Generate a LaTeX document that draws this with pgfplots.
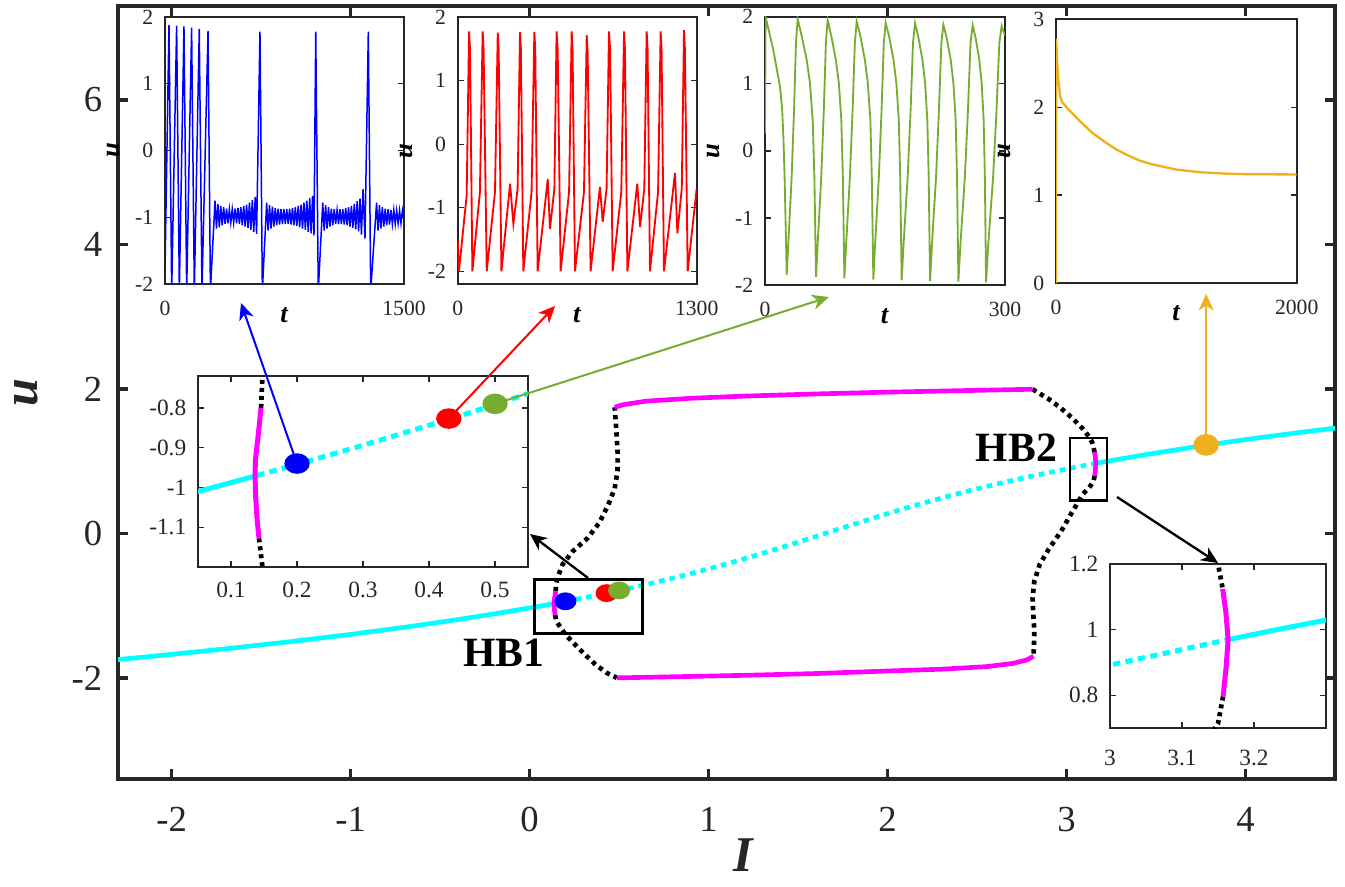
\documentclass[border=0pt]{standalone}
\usepackage{fontspec}
\setmainfont{Liberation Serif}
\usepackage{pgfplots}
\usepackage{pgfplotstable}
\pgfplotsset{compat=1.18}
\usetikzlibrary{arrows.meta}

\definecolor{mcyan}{rgb}{0,1,1}
\definecolor{mmag}{rgb}{1,0,1}
\definecolor{mgreen}{rgb}{0.466,0.674,0.188}
\definecolor{morange}{rgb}{0.929,0.694,0.125}
\definecolor{axgray}{rgb}{0.15,0.15,0.15}

% equilibrium branch: stable left, unstable middle, stable right
\pgfplotstableread{
I u
-2.3145 -1.75
-2.1034 -1.70
-1.7064 -1.60
-1.3415 -1.50
-1.0066 -1.40
-0.6996 -1.30
-0.4187 -1.20
-0.1618 -1.10
0.0506 -1.01
0.0732 -1.00
0.1397 -0.97
}\eqleft
\pgfplotstableread{
I u
0.1397 -0.97
0.2044 -0.94
0.2881 -0.90
0.4336 -0.827
0.4850 -0.80
0.6660 -0.70
0.8329 -0.60
0.9878 -0.50
1.1328 -0.40
1.2697 -0.30
1.4006 -0.20
1.5276 -0.10
1.6525 0.00
1.7774 0.10
1.9044 0.20
2.0353 0.30
2.1722 0.40
2.3172 0.50
2.4721 0.60
2.6385 0.70
2.8190 0.80
3.0169 0.90
3.1653 0.97
}\eqmid
\pgfplotstableread{
I u
3.1653 0.97
3.2318 1.00
3.4668 1.10
3.7237 1.20
4.0046 1.30
4.3116 1.40
4.6465 1.50
}\eqright

% limit cycle extrema
\pgfplotstableread{
I u
0.1455 -0.80
0.1405 -0.88
0.1370 -0.93
0.1364 -0.968
0.1372 -1.02
0.1395 -1.08
0.1424 -1.128
}\hbone
\pgfplotstableread{
I u
0.1455 -0.80
0.1476 -0.72
0.155 -0.62
0.184 -0.43
0.24 -0.25
0.324 -0.065
0.39 0.15
0.44 0.40
0.475 0.62
0.491 0.86
0.492 1.10
0.487 1.32
0.481 1.55
0.475 1.745
}\ulupper
\pgfplotstableread{
I u
0.1424 -1.128
0.1476 -1.20
0.161 -1.26
0.20 -1.40
0.254 -1.54
0.31 -1.68
0.37 -1.82
0.43 -1.93
0.487 -2.0
}\ullower
\pgfplotstableread{
I u
0.475 1.745
0.52 1.78
0.65 1.83
0.9 1.87
1.2 1.90
1.6 1.93
2.0 1.955
2.4 1.975
2.81 1.995
}\slupper
\pgfplotstableread{
I u
0.487 -2.0
0.8 -1.985
1.2 -1.965
1.6 -1.94
2.0 -1.905
2.3 -1.88
2.55 -1.845
2.7 -1.80
2.78 -1.75
2.815 -1.70
}\sllower
\pgfplotstableread{
I u
2.81 1.995
2.90 1.86
2.97 1.73
3.03 1.60
3.09 1.45
3.125 1.34
3.143 1.26
3.150 1.20
3.1565 1.124
}\urupper
\pgfplotstableread{
I u
3.1565 1.124
3.161 1.05
3.164 0.968
3.161 0.88
3.157 0.796
}\hbtwo
\pgfplotstableread{
I u
3.157 0.796
3.150 0.714
3.125 0.63
3.09 0.54
3.03 0.29
2.97 0.03
2.90 -0.22
2.85 -0.43
2.82 -0.66
2.81 -0.9
2.815 -1.15
2.82 -1.36
2.818 -1.55
2.815 -1.70
}\urlower

% time series
\pgfplotstableread{
t u
0 -1.79
25 1.88
42 -2.1
73 1.87
90 -2.1
119 1.86
136 -2.1
167 1.84
184 -2.1
215 1.82
232 -2.1
270 1.79
285 -2.1
314 -0.75
323 -1.17
332 -0.80
341 -1.15
350 -0.83
359 -1.12
368 -0.85
377 -1.10
386 -0.87
395 -1.09
404 -0.88
413 -1.08
422 -0.88
431 -1.08
440 -0.87
449 -1.09
458 -0.86
467 -1.10
476 -0.85
485 -1.12
494 -0.83
503 -1.14
512 -0.81
521 -1.16
530 -0.78
539 -1.19
548 -0.74
557 -1.22
566 -0.70
575 -1.25
596 1.78
611 -2.1
638 -0.78
647 -1.20
656 -0.82
665 -1.17
674 -0.84
683 -1.14
692 -0.86
701 -1.12
710 -0.87
719 -1.11
728 -0.88
737 -1.10
746 -0.88
755 -1.10
764 -0.88
773 -1.10
782 -0.87
791 -1.11
800 -0.86
809 -1.12
818 -0.85
827 -1.13
836 -0.83
845 -1.15
854 -0.81
863 -1.17
872 -0.78
881 -1.19
890 -0.75
899 -1.22
908 -0.71
917 -1.24
926 -0.68
935 -1.27
946 1.78
962 -2.1
990 -0.78
999 -1.20
1008 -0.82
1017 -1.17
1026 -0.85
1035 -1.14
1044 -0.87
1053 -1.12
1062 -0.88
1071 -1.10
1080 -0.89
1089 -1.10
1098 -0.88
1107 -1.10
1116 -0.88
1125 -1.11
1134 -0.86
1143 -1.12
1152 -0.85
1161 -1.14
1170 -0.83
1179 -1.16
1188 -0.80
1197 -1.18
1206 -0.76
1215 -1.21
1224 -0.72
1233 -1.26
1243 -0.58
1255 -1.32
1276 1.78
1291 -2.1
1328 -0.78
1337 -1.20
1346 -0.82
1355 -1.17
1364 -0.85
1373 -1.14
1382 -0.87
1391 -1.12
1400 -0.88
1409 -1.11
1418 -0.89
1427 -1.10
1436 -0.89
1445 -1.10
1454 -0.90
1463 -1.09
1472 -0.90
1481 -1.09
1490 -0.90
1500 -1.05
}\tsblue
\pgfplotstableread{
t u
0 -1.5
7 -2.0
49 -0.8
62 1.78
67 1.5
80 -2.0
121 -0.75
136 1.78
141 1.5
158 -2
203 -0.75
218 1.76
223 1.5
238 -2
285 -0.62
303 -1.25
326 -0.7
339 1.77
344 1.5
357 -2
402 -0.75
417 1.77
422 1.5
435 -2
490 -0.55
502 -1.33
526 -0.7
538 1.78
544 1.5
560 -2
606 -0.75
620 1.78
625 1.5
638 -2
687 -0.75
702 1.72
707 1.45
723 -2
774 -0.67
789 -1.22
810 -0.7
823 1.78
829 1.5
843 -2
890 -0.75
905 1.78
910 1.5
923 -2
977 -0.62
992 -1.3
1015 -0.7
1028 1.78
1033 1.5
1046 -2
1090 -0.75
1104 1.78
1109 1.5
1122 -2
1182 -0.45
1195 -1.4
1219 -0.7
1231 1.8
1236 1.5
1251 -2
1300 -0.7
}\tsred
\pgfplotstableread{
t u
0 0.26
0.8 1.99
5 1.78
10.4 1.50
15 1.20
18.75 0.96
21.5 0.60
23 0.20
24.5 -0.40
26 -1.20
27.1 -1.85
29.2 -1.37
33.3 -0.39
36.3 0.61
38.7 1.61
40.8 1.97
45.85 1.71
52.05 1.36
56.2 1.01
59.6 0.46
61.7 -0.39
63.75 -1.88
65.9 -1.37
70.3 -0.39
73.5 0.61
76.1 1.61
78.3 1.95
82.9 1.71
88.5 1.36
92.3 1.01
95.4 0.46
97.3 -0.39
99.2 -1.90
101.5 -1.37
106.1 -0.39
109.5 0.61
112.3 1.61
114.6 1.93
119.2 1.71
124.8 1.36
128.5 1.01
131.7 0.46
133.5 -0.39
135.4 -1.92
137.7 -1.37
142.3 -0.39
145.7 0.61
148.5 1.61
150.8 1.91
155.2 1.70
160.6 1.36
164.2 1.01
167.2 0.46
169.0 -0.39
170.8 -1.93
173.3 -1.37
178.3 -0.39
182.0 0.61
185.0 1.61
187.5 1.90
191.6 1.70
196.7 1.36
200.1 1.01
202.9 0.46
204.6 -0.39
206.3 -1.94
208.8 -1.37
213.8 -0.39
217.4 0.61
220.4 1.61
222.9 1.88
227.0 1.69
232.1 1.36
235.5 1.01
238.3 0.46
240.0 -0.39
241.7 -1.95
244.4 -1.37
249.8 -0.39
253.7 0.61
256.9 1.61
259.6 1.87
263.3 1.68
267.8 1.36
270.8 1.01
273.3 0.46
274.8 -0.39
276.3 -1.96
279.2 -1.37
285.1 -0.39
289.4 0.61
292.9 1.61
295.8 1.86
300 1.72
}\tsgreen
\pgfplotstableread{
t u
0 0
1 2.78
10 2.50
20 2.30
35 2.12
50 2.06
100 1.98
150 1.91
200 1.84
300 1.71
400 1.61
500 1.52
600 1.45
700 1.39
800 1.35
900 1.32
1000 1.29
1200 1.26
1400 1.245
1600 1.238
2000 1.235
}\tsorange

\pgfplotsset{
  inset/.style={
    scale only axis, anchor=south west,
    axis background/.style={fill=white},
    axis line style={axgray, line width=0.6pt},
    tick style={axgray, line width=0.4pt},
    tick align=inside, major tick length=1.8pt,
    /pgf/number format/assume math mode=true,
    /pgf/number format/1000 sep={},
    scaled ticks=false,
  },
  tsinset/.style={
    inset,
    ticklabel style={font=\fontsize{6.5}{7}\selectfont, text=axgray},
    xticklabel style={yshift=-1.5pt},
    xlabel={\textbf{\textit{t}}}, ylabel={\textbf{\textit{u}}},
    label style={font=\fontsize{8}{9}\selectfont},
    xlabel style={at={(axis description cs:0.5,-0.116)}, anchor=center},
    ylabel style={at={(axis description cs:-0.215,0.5)}, anchor=center},
  },
  cyandot/.style={mcyan, line width=1.4pt, dash pattern=on 1.7pt off 1.5pt},
  blackdot/.style={black, line width=1.4pt, dash pattern=on 1.3pt off 1.3pt},
}

\begin{document}
\begin{tikzpicture}
% main bifurcation diagram
\begin{axis}[
  scale only axis,
  at={(35.4pt,32.1pt)}, anchor=south west,
  width=365.1pt, height=231.9pt,
  xmin=-2.3, xmax=4.5, ymin=-3.4, ymax=7.3,
  xtick={-2,-1,0,1,2,3,4}, ytick={-2,0,2,4,6},
  tick align=inside, major tick length=3pt,
  axis line style={axgray, line width=1.3pt},
  tick style={axgray, line width=1pt},
  ticklabel style={font=\fontsize{11}{12}\selectfont, text=axgray},
  /pgf/number format/assume math mode=true,
  xticklabel style={yshift=-5pt},
  yticklabel style={xshift=-1.2pt},
  xlabel={\textbf{\textit{I}}}, ylabel={\textbf{\textit{u}}},
  label style={font=\fontsize{15}{16}\selectfont, text=axgray},
  xlabel style={at={(axis description cs:0.514,-0.098)}, anchor=center},
  ylabel style={at={(axis description cs:-0.075,0.5)}, anchor=center},
]
\addplot[mcyan, line width=1.4pt] table {\eqleft};
\addplot[cyandot] table {\eqmid};
\addplot[mcyan, line width=1.4pt] table {\eqright};
\addplot[blackdot] table {\ulupper};
\addplot[blackdot] table {\ullower};
\addplot[blackdot] table {\urupper};
\addplot[blackdot] table {\urlower};
\addplot[mmag, line width=1.4pt] table {\slupper};
\addplot[mmag, line width=1.4pt] table {\sllower};
\addplot[mmag, line width=1.4pt] table {\hbone};
\addplot[mmag, line width=1.4pt] table {\hbtwo};
\addplot[only marks, mark=*, blue, mark size=3.1pt, mark options={yscale=0.8}] coordinates {(0.2,-0.94)};
\addplot[only marks, mark=*, red, mark size=3.1pt, mark options={yscale=0.8}] coordinates {(0.43,-0.827)};
\addplot[only marks, mark=*, mgreen, mark size=3.1pt, mark options={yscale=0.8}] coordinates {(0.5,-0.79)};
\addplot[only marks, mark=*, morange, mark size=3.6pt, mark options={yscale=0.85}] coordinates {(3.78,1.225)};
\coordinate (odot) at (axis cs:3.78,1.225);
\draw[black, line width=0.7pt] (axis cs:0.028,-1.385) rectangle (axis cs:0.631,-0.637);
\draw[black, line width=0.7pt] (axis cs:3.019,0.457) rectangle (axis cs:3.225,1.316);
\node[font=\fontsize{12.5}{13}\selectfont\bfseries] at (axis cs:-0.145,-1.65) {HB1};
\node[font=\fontsize{12.5}{13}\selectfont\bfseries] at (axis cs:2.72,1.19) {HB2};
\end{axis}

% zoom near HB1
\begin{axis}[
  inset, at={(59.4pt,95.7pt)}, width=99pt, height=57.3pt,
  xmin=0.05, xmax=0.55, ymin=-1.2, ymax=-0.72,
  xtick={0.1,0.2,0.3,0.4,0.5}, ytick={-1.1,-1,-0.9,-0.8},
  ticklabel style={font=\fontsize{7}{8}\selectfont, text=axgray},
  xticklabel style={yshift=-1pt},
]
\addplot[mcyan, line width=1.5pt] table {\eqleft};
\addplot[mcyan, line width=1.5pt, dash pattern=on 2.2pt off 1.6pt] table {\eqmid};
\addplot[black, line width=1.4pt, dash pattern=on 1.2pt off 1.2pt] table {\ulupper};
\addplot[black, line width=1.4pt, dash pattern=on 1.2pt off 1.2pt] table {\ullower};
\addplot[mmag, line width=1.5pt] table {\hbone};
\addplot[only marks, mark=*, blue, mark size=3.6pt, mark options={yscale=0.8}] coordinates {(0.2,-0.94)};
\addplot[only marks, mark=*, red, mark size=3.6pt, mark options={yscale=0.8}] coordinates {(0.43,-0.827)};
\addplot[only marks, mark=*, mgreen, mark size=3.6pt, mark options={yscale=0.8}] coordinates {(0.5,-0.79)};
\coordinate (bdot) at (axis cs:0.2,-0.94);
\coordinate (rdot) at (axis cs:0.43,-0.827);
\coordinate (gdot) at (axis cs:0.5,-0.79);
\end{axis}

% zoom near HB2
\begin{axis}[
  inset, at={(333pt,47.4pt)}, width=64.8pt, height=49.2pt,
  xmin=3, xmax=3.3, ymin=0.7, ymax=1.2,
  xtick={3,3.1,3.2}, ytick={0.8,1,1.2},
  ticklabel style={font=\fontsize{7}{8}\selectfont, text=axgray},
  xticklabel style={yshift=-3pt},
]
\addplot[mcyan, line width=1.5pt, dash pattern=on 2.2pt off 1.6pt] table {\eqmid};
\addplot[mcyan, line width=1.5pt] table {\eqright};
\addplot[black, line width=1.4pt, dash pattern=on 1.2pt off 1.2pt] table {\urupper};
\addplot[black, line width=1.4pt, dash pattern=on 1.2pt off 1.2pt] table {\urlower};
\addplot[mmag, line width=1.5pt] table {\hbtwo};
\end{axis}

% time series insets
\begin{axis}[tsinset, at={(49.5pt,180.6pt)}, width=71.7pt, height=80.1pt,
  xmin=0, xmax=1500, ymin=-2, ymax=2, xtick={0,1500}, ytick={-2,-1,0,1,2}]
\addplot[blue, line width=0.45pt] table {\tsblue};
\end{axis}
\begin{axis}[tsinset, at={(137.3pt,180.6pt)}, width=71.7pt, height=80pt,
  xmin=0, xmax=1300, ymin=-2.2, ymax=2, xtick={0,1300}, ytick={-2,-1,0,1,2}]
\addplot[red, line width=0.55pt] table {\tsred};
\end{axis}
\begin{axis}[tsinset, at={(229.5pt,180.3pt)}, width=72pt, height=80.5pt,
  xmin=0, xmax=300, ymin=-2, ymax=2, xtick={0,300}, ytick={-2,-1,0,1,2}]
\addplot[mgreen, line width=0.55pt] table {\tsgreen};
\end{axis}
\begin{axis}[tsinset, at={(316.8pt,180.9pt)}, width=72.2pt, height=79.1pt,
  xmin=0, xmax=2000, ymin=0, ymax=3, xtick={0,2000}, ytick={0,1,2,3}]
\addplot[morange, line width=0.7pt] table {\tsorange};
\end{axis}

% annotation arrows (pixel frame of the figure)
\begin{scope}[x=0.3pt, y=-0.3pt, shift={(0pt,265.8pt)},
  arr/.style={line width=0.6pt, -{Stealth[length=5pt,width=4.5pt,inset=1.5pt]}}]
\draw[arr, blue, shorten <=2pt] (bdot) -- (241,303);
\draw[arr, red, shorten <=2pt] (rdot) -- (555,306);
\draw[arr, mgreen, shorten <=2pt] (gdot) -- (829,297);
\draw[arr, morange, shorten <=2pt] (odot) -- ++(0,-151);
\draw[arr, black, line width=0.7pt] (588,578) -- (530,534);
\draw[arr, black, line width=0.7pt] (1117,497) -- (1218,563);
\end{scope}
\pgfresetboundingbox
\useasboundingbox (0,0) rectangle (403.5pt,265.8pt);
\end{tikzpicture}
\end{document}
